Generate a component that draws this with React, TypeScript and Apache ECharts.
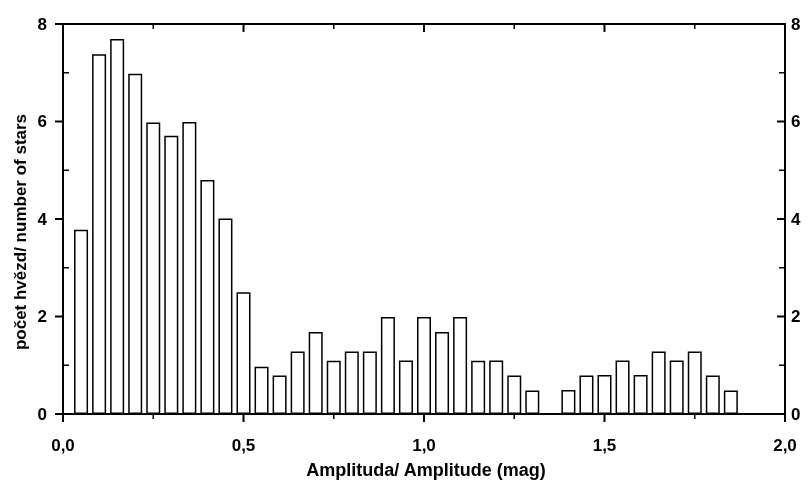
import React, { useEffect, useRef } from "react";
import * as echarts from "echarts";

const binCenters = [
  0.05, 0.1, 0.15, 0.2, 0.25, 0.3, 0.35, 0.4, 0.45, 0.5,
  0.55, 0.6, 0.65, 0.7, 0.75, 0.8, 0.85, 0.9, 0.95, 1.0,
  1.05, 1.1, 1.15, 1.2, 1.25, 1.3,
  1.4, 1.45, 1.5, 1.55, 1.6, 1.65, 1.7, 1.75, 1.8, 1.85,
];
const starCounts = [
  3.78, 7.38, 7.69, 6.98, 5.98, 5.71, 5.99, 4.8, 4.01, 2.5,
  0.97, 0.79, 1.28, 1.68, 1.09, 1.28, 1.28, 1.99, 1.1, 1.99,
  1.68, 1.99, 1.09, 1.1, 0.79, 0.48,
  0.49, 0.79, 0.8, 1.1, 0.8, 1.28, 1.1, 1.28, 0.79, 0.48,
];
const xTicks = [0, 0.5, 1.0, 1.5, 2.0];
const xMinorTicks = [0.25, 0.75, 1.25, 1.75];
const yTicks = [0, 2, 4, 6, 8];
const yMinorTicks = [1, 3, 5, 7];
const xTitle = "Amplituda/ Amplitude (mag)";
const yTitle = "počet hvězd/ number of stars";

const FONT = "Liberation Sans";

export default function App() {
  const ref = useRef<HTMLDivElement>(null);
  useEffect(() => {
    if (!ref.current) return;
    const chart = echarts.init(ref.current, undefined, { renderer: "svg" });
    const xMin = xTicks[0];
    const xMax = xTicks[xTicks.length - 1];
    const yMin = yTicks[0];
    const yMax = yTicks[yTicks.length - 1];
    const xFmt = (v: number) => v.toFixed(1).replace(".", ",");

    const seg = (x1: number, y1: number, x2: number, y2: number, w: number) => ({
      type: "line",
      shape: { x1, y1, x2, y2 },
      style: { stroke: "#000", lineWidth: w },
    });

    // edge: 0 bottom, 1 top, 2 left, 3 right
    const tickSeries = (values: number[], edge: number, offset: number, w: number) => ({
      type: "custom",
      clip: false,
      data: values.map((v) =>
        edge < 2 ? [v, edge === 0 ? yMin : yMax] : [edge === 2 ? xMin : xMax, v]
      ),
      renderItem: (_p: any, api: any) => {
        const c = api.coord([api.value(0), api.value(1)]);
        return edge < 2
          ? seg(c[0], c[1], c[0], c[1] + offset, w)
          : seg(c[0], c[1], c[0] + offset, c[1], w);
      },
    });

    // top and right frame lines
    const frameSeries = {
      type: "custom",
      clip: false,
      data: [[xMax, yMax]],
      renderItem: (_p: any, api: any) => {
        const tl = api.coord([xMin, yMax]);
        const tr = api.coord([xMax, yMax]);
        const br = api.coord([xMax, yMin]);
        return {
          type: "polyline",
          shape: { points: [tl, tr, br] },
          style: { stroke: "#000", lineWidth: 2, fill: "none" },
        };
      },
    };

    // right-hand axis labels
    const rightLabelSeries = {
      type: "custom",
      clip: false,
      data: yTicks.map((v) => [xMax, v]),
      renderItem: (_p: any, api: any) => {
        const c = api.coord([api.value(0), api.value(1)]);
        return {
          type: "text",
          x: c[0] + 6,
          y: c[1],
          style: {
            text: String(api.value(1)),
            fill: "#000",
            fontFamily: FONT,
            fontWeight: "bold",
            fontSize: 17,
            align: "left",
            verticalAlign: "middle",
          },
        };
      },
    };

    chart.setOption({
      animation: false,
      grid: { left: 63, right: 25, top: 24, bottom: 66 },
      xAxis: {
        type: "value",
        min: xMin,
        max: xMax,
        interval: 0.5,
        axisLine: { show: true, onZero: false, lineStyle: { color: "#000", width: 2 } },
        axisTick: { show: false },
        splitLine: { show: false },
        axisLabel: {
          color: "#000",
          fontFamily: FONT,
          fontWeight: "bold",
          fontSize: 17,
          margin: 23,
          formatter: xFmt,
        },
      },
      yAxis: {
        type: "value",
        min: yMin,
        max: yMax,
        interval: 2,
        axisLine: { show: true, onZero: false, lineStyle: { color: "#000", width: 2 } },
        axisTick: { show: false },
        splitLine: { show: false },
        axisLabel: {
          color: "#000",
          fontFamily: FONT,
          fontWeight: "bold",
          fontSize: 17,
          margin: 16,
        },
      },
      graphic: [
        {
          type: "text",
          x: 20,
          y: 232,
          rotation: Math.PI / 2,
          style: {
            text: yTitle,
            fill: "#000",
            fontFamily: FONT,
            fontWeight: "bold",
            fontSize: 17,
            align: "center",
            verticalAlign: "middle",
          },
        },
        {
          type: "text",
          x: 426,
          y: 470,
          style: {
            text: xTitle,
            fill: "#000",
            fontFamily: FONT,
            fontWeight: "bold",
            fontSize: 18,
            align: "center",
            verticalAlign: "middle",
          },
        },
      ],
      series: [
        {
          type: "bar",
          barWidth: 14,
          data: binCenters.map((x, i) => [x, starCounts[i]]),
          itemStyle: { color: "#fff", borderColor: "#000", borderWidth: 1.5 },
        },
        frameSeries,
        rightLabelSeries,
        tickSeries(xTicks, 0, 8, 2),
        tickSeries(xTicks, 1, 8, 2),
        tickSeries(xMinorTicks, 0, 5, 1.5),
        tickSeries(xMinorTicks, 1, 5, 1.5),
        tickSeries(yTicks, 2, -8, 2),
        tickSeries(yTicks, 3, -8, 2),
        tickSeries(yMinorTicks, 2, 6, 1.5),
        tickSeries(yMinorTicks, 3, -6, 1.5),
      ],
    });
    return () => chart.dispose();
  }, []);
  return <div ref={ref} style={{ position: "fixed", left: 0, top: 0, width: 810, height: 480 }} />;
}
